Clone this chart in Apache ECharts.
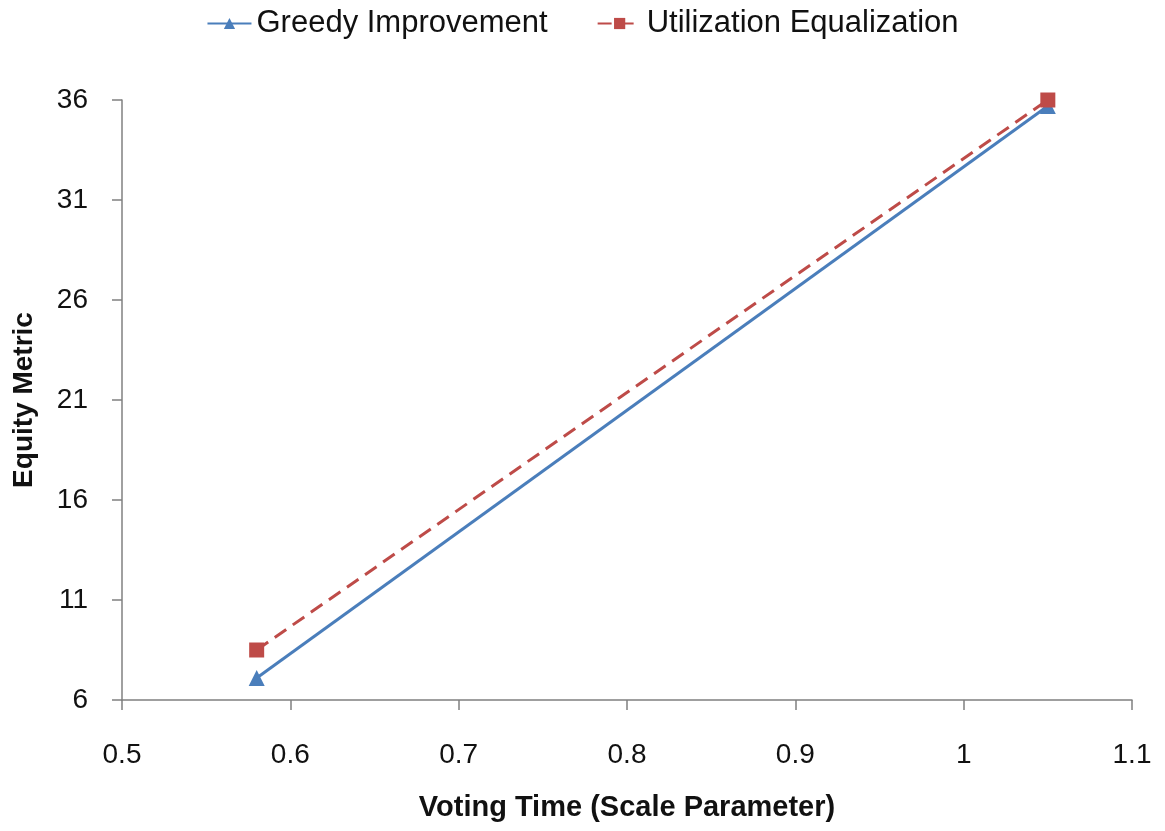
<!DOCTYPE html>
<html>
<head>
<meta charset="utf-8">
<script src="https://cdn.jsdelivr.net/npm/echarts@6/dist/echarts.min.js"></script>
<style>html,body{margin:0;padding:0;background:#fff}#c{width:1165px;height:831px}</style>
</head>
<body>
<div id="c"></div>
<script>
const seriesNames = ['Greedy Improvement', 'Utilization Equalization'];
const xValues = [0.58, 1.05];
const greedy = [7.1, 35.7];
const utilization = [8.5, 36.0];
const yTicks = [6, 11, 16, 21, 26, 31, 36];
const xTicks = [0.5, 0.6, 0.7, 0.8, 0.9, 1.0, 1.1];

const chart = echarts.init(document.getElementById('c'));
const font = 'Liberation Sans, Arial, sans-serif';
chart.setOption({
  animation: false,
  backgroundColor: '#fff',
  legend: {
    top: 3,
    left: 'center',
    itemWidth: 44,
    itemHeight: 14,
    itemGap: 49,
    textStyle: {fontSize: 31, fontFamily: font, color: '#111'},
    data: seriesNames
  },
  grid: {left: 122, right: 33, top: 100, bottom: 131, containLabel: false},
  xAxis: {
    type: 'value', min: 0.5, max: 1.1, interval: 0.1,
    name: 'Voting Time (Scale Parameter)', nameLocation: 'middle', nameGap: 93,
    nameTextStyle: {fontSize: 29, fontWeight: 'bold', fontFamily: font, color: '#111'},
    axisLine: {lineStyle: {color: '#808080', width: 1.5}},
    axisTick: {show: true, length: 10, lineStyle: {color: '#808080', width: 1.5}, customValues: xTicks},
    axisLabel: {fontSize: 28, fontFamily: font, color: '#111', margin: 41, customValues: xTicks,
      formatter: v => String(Math.round(v * 10) / 10)},
    splitLine: {show: false}
  },
  yAxis: {
    type: 'value', min: 6, max: 36,
    name: 'Equity Metric', nameLocation: 'middle', nameGap: 84, nameRotate: 90,
    nameTextStyle: {fontSize: 28, fontWeight: 'bold', fontFamily: font, color: '#111'},
    axisLine: {show: true, lineStyle: {color: '#808080', width: 1.5}},
    axisTick: {show: true, length: 10, lineStyle: {color: '#808080', width: 1.5}, customValues: yTicks},
    axisLabel: {fontSize: 28, fontFamily: font, color: '#111', margin: 34, customValues: yTicks},
    splitLine: {show: false}
  },
  series: [
    {
      name: seriesNames[0], type: 'line',
      data: xValues.map((x, i) => [x, greedy[i]]),
      symbol: 'triangle', symbolSize: 16,
      lineStyle: {color: '#4a7ebb', width: 3},
      itemStyle: {color: '#4a7ebb'}
    },
    {
      name: seriesNames[1], type: 'line',
      data: xValues.map((x, i) => [x, utilization[i]]),
      symbol: 'rect', symbolSize: 15,
      lineStyle: {color: '#be4b48', width: 3, type: [14, 8]},
      itemStyle: {color: '#be4b48'}
    }
  ]
});
</script>
</body>
</html>
